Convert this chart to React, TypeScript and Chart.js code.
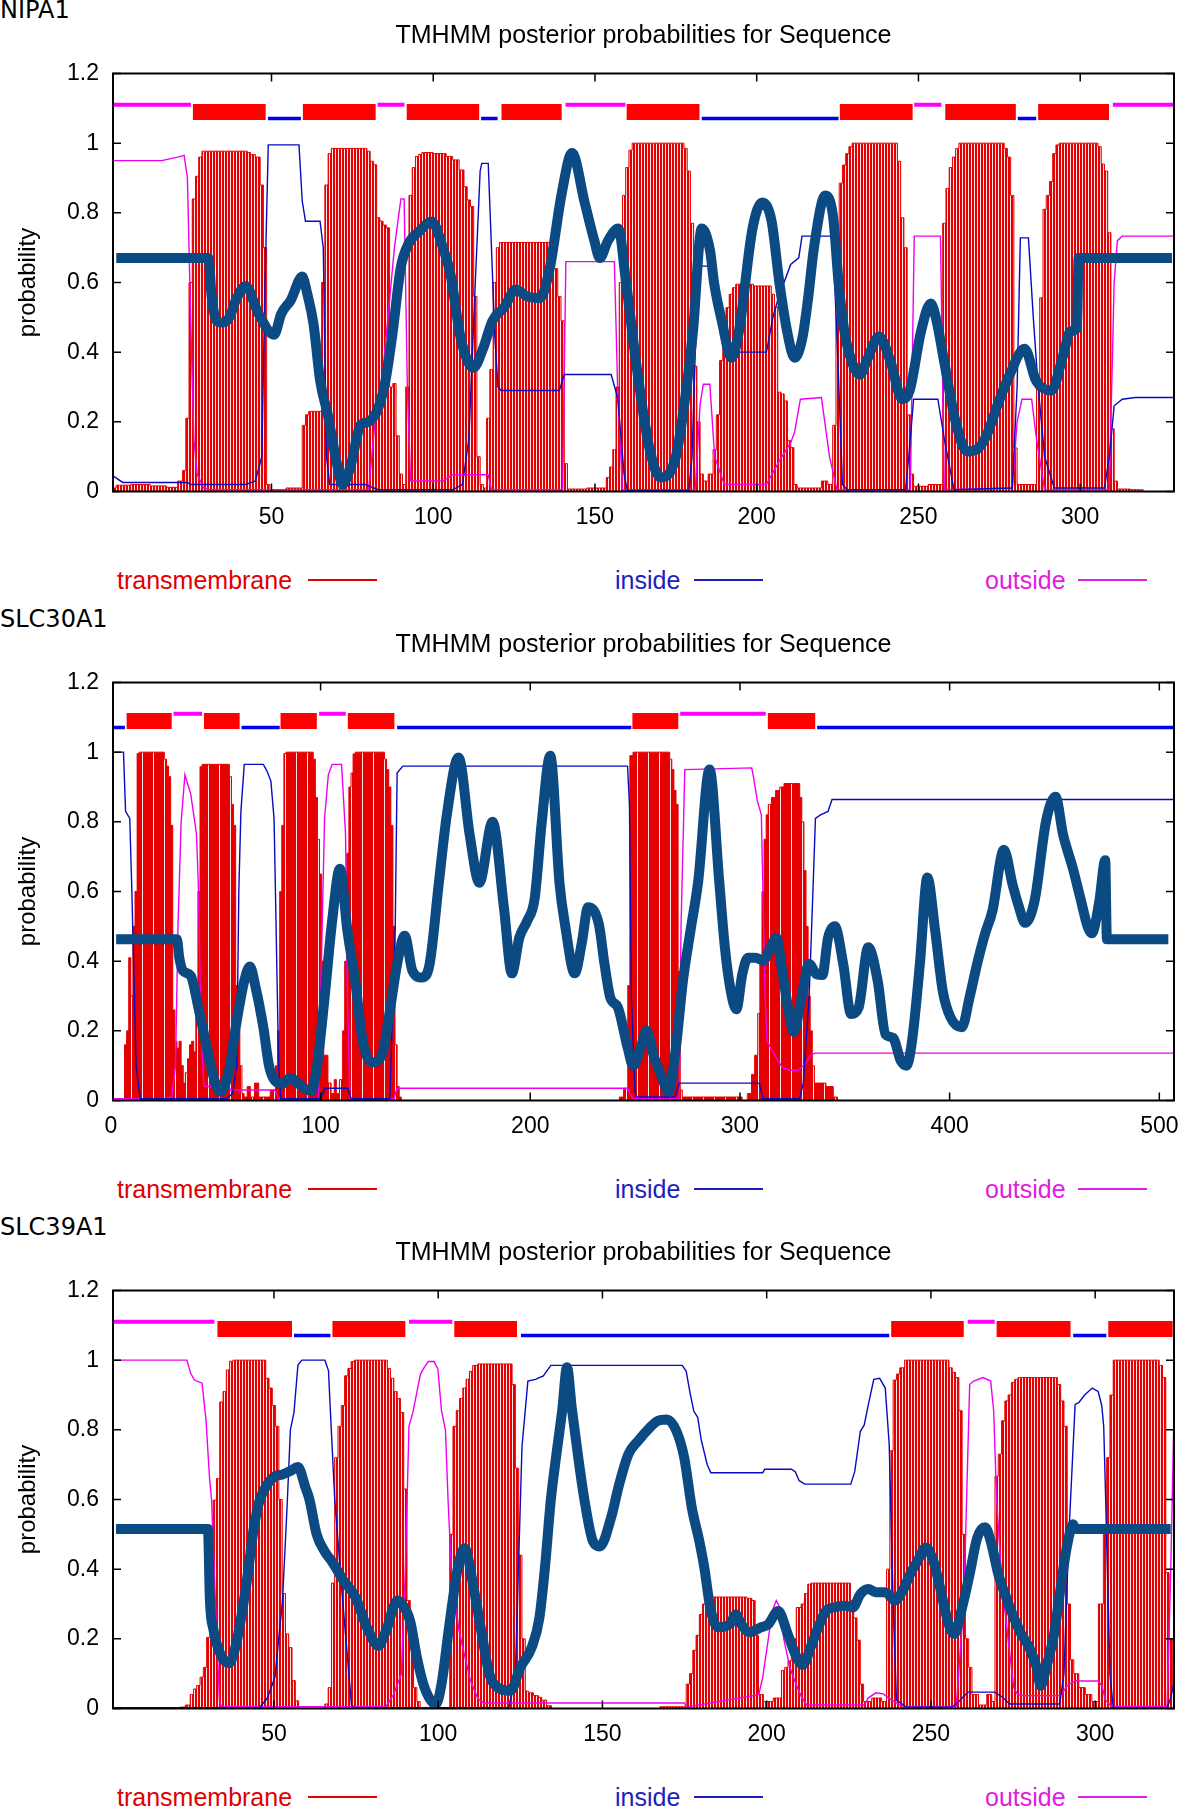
import React, { useEffect, useRef } from 'react';
import { Chart, registerables } from 'chart.js';

Chart.register(...registerables);

type Pt = [number, number];

// ---------------- shared tick / text data ----------------
const TITLE = 'TMHMM posterior probabilities for Sequence';
const Y_TITLE = 'probability';
const Y_TICKS = [0, 0.2, 0.4, 0.6, 0.8, 1, 1.2];
const LEGEND_NAMES = ['transmembrane', 'inside', 'outside'];

// ---------------- NIPA1 ----------------
const NIPA1_RANGE: Pt = [1, 329];
const NIPA1_XTICKS = [50, 100, 150, 200, 250, 300];
const NIPA1_TM: Pt[] = [
  [1, 0.01], [3, 0.018], [10, 0.02], [15, 0.016], [20, 0.012], [22, 0.03], [23, 0.06], [24, 0.21], [25, 0.6], [26, 0.84],
  [27, 0.905], [28, 0.96], [29, 0.977], [42, 0.977], [43, 0.973], [44, 0.967], [46, 0.96], [47, 0.88], [48, 0.7], [49, 0.02],
  [50, 0.005], [59, 0.01], [60, 0.19], [61, 0.22], [62, 0.23], [65, 0.23], [66, 0.6], [67, 0.88], [68, 0.97], [69, 0.985],
  [79, 0.985], [80, 0.977], [81, 0.948], [82, 0.938], [83, 0.786], [84, 0.776], [85, 0.765], [86, 0.757], [87, 0.3], [88, 0.31],
  [89, 0.16], [90, 0.05], [91, 0.02], [92, 0.3], [93, 0.85], [94, 0.93], [95, 0.962], [96, 0.968], [97, 0.973], [103, 0.97],
  [105, 0.962], [107, 0.952], [109, 0.923], [110, 0.875], [111, 0.837], [112, 0.818], [113, 0.56], [114, 0.1], [115, 0.02], [116, 0.01],
  [117, 0.21], [118, 0.35], [119, 0.6], [120, 0.7], [121, 0.715], [136, 0.715], [137, 0.7], [138, 0.64], [139, 0.56], [140, 0.49],
  [141, 0.08], [142, 0.007], [153, 0.01], [154, 0.04], [155, 0.07], [156, 0.12], [157, 0.3], [158, 0.6], [159, 0.85], [160, 0.93],
  [161, 0.98], [162, 1.0], [177, 1.0], [178, 0.985], [179, 0.92], [180, 0.77], [181, 0.36], [182, 0.2], [183, 0.05], [184, 0.03],
  [186, 0.05], [187, 0.12], [188, 0.22], [189, 0.376], [190, 0.447], [191, 0.528], [192, 0.566], [193, 0.585], [194, 0.595], [204, 0.59],
  [205, 0.566], [206, 0.53], [207, 0.285], [208, 0.28], [209, 0.26], [210, 0.146], [211, 0.126], [212, 0.02], [213, 0.01], [219, 0.01],
  [221, 0.03], [223, 0.02], [224, 0.19], [225, 0.6], [226, 0.885], [227, 0.937], [228, 0.97], [229, 0.99], [230, 1.0], [243, 1.0],
  [244, 0.948], [245, 0.786], [246, 0.7], [247, 0.22], [248, 0.05], [249, 0.015], [257, 0.02], [258, 0.77], [259, 0.87], [260, 0.93],
  [261, 0.96], [262, 0.985], [263, 1.0], [276, 1.0], [277, 0.985], [278, 0.96], [279, 0.85], [280, 0.125], [281, 0.02], [286, 0.02],
  [287, 0.3], [288, 0.556], [289, 0.81], [290, 0.85], [291, 0.89], [292, 0.97], [293, 0.995], [294, 1.0], [305, 1.0], [306, 0.99],
  [307, 0.94], [308, 0.92], [309, 0.743], [310, 0.18], [311, 0.03], [312, 0.007], [319, 0.005], [320, 0], [329, 0],
];
const NIPA1_INSIDE: Pt[] = [
  [1, 0.045], [4, 0.026], [24, 0.026], [25, 0.02], [42, 0.02], [45, 0.03], [47, 0.1], [48, 0.6], [49, 0.995], [58.5, 0.995],
  [59.5, 0.834], [60.5, 0.776], [65, 0.776], [66, 0.7], [67, 0.1], [68, 0.02], [79, 0.02], [83, 0.005], [106, 0.005], [109, 0.02],
  [111, 0.15], [113, 0.6], [114.5, 0.92], [115, 0.942], [117, 0.942], [118, 0.7], [119, 0.45], [120, 0.3], [121, 0.29], [139, 0.29],
  [140.5, 0.336], [155, 0.336], [157, 0.27], [159, 0.05], [160, 0.003], [179, 0.003], [180, 0.1], [181, 0.4], [182.5, 0.647], [185.5, 0.647],
  [188, 0.55], [191, 0.43], [193, 0.4], [203, 0.4], [205, 0.5], [207, 0.566], [209, 0.614], [210.5, 0.652], [213, 0.671], [214, 0.733],
  [223.5, 0.733], [225, 0.4], [226.5, 0.02], [228, 0.005], [246, 0.005], [247, 0.1], [248.5, 0.265], [256, 0.265], [258, 0.15], [261, 0.005],
  [279, 0.01], [280.5, 0.3], [281.5, 0.728], [284, 0.728], [285.5, 0.5], [287, 0.3], [289, 0.1], [292, 0.01], [307.5, 0.01], [309, 0.1],
  [310.5, 0.246], [313, 0.265], [317, 0.27], [329, 0.27],
];
const NIPA1_OUTSIDE: Pt[] = [
  [1, 0.95], [16, 0.95], [21, 0.96], [23, 0.965], [24, 0.9], [25, 0.5], [26, 0.15], [27, 0.05], [29, 0.01], [31, 0.005],
  [80, 0.005], [81, 0.1], [82, 0.2], [84, 0.3], [86, 0.5], [88, 0.7], [90, 0.84], [91, 0.84], [92, 0.3], [93, 0.03],
  [103, 0.03], [106, 0.048], [117, 0.048], [118, 0.005], [140, 0.005], [141, 0.66], [156, 0.66], [157, 0.3], [158.5, 0.005], [181, 0.005],
  [182.5, 0.25], [183.5, 0.308], [185.5, 0.308], [187, 0.1], [190, 0.02], [203, 0.02], [207, 0.088], [210.5, 0.14], [211.7, 0.17], [213.5, 0.265],
  [220, 0.27], [222.5, 0.1], [224.8, 0.005], [247.5, 0.005], [248.7, 0.733], [256.8, 0.733], [258, 0.005], [279, 0.01], [280.5, 0.2], [282, 0.265],
  [285, 0.265], [286.5, 0.15], [289, 0.005], [309, 0.005], [310.5, 0.6], [311.5, 0.72], [313, 0.733], [329, 0.733],
];
const NIPA1_SCORE: Pt[] = [
  [2, 0.67], [30.5, 0.67], [31.5, 0.56], [33, 0.49], [35, 0.485], [37, 0.5], [39, 0.55], [42, 0.59], [46, 0.51], [50.8, 0.45],
  [53, 0.51], [56, 0.55], [59.5, 0.617], [61, 0.57], [63, 0.48], [65, 0.32], [67.4, 0.22], [69.8, 0.1], [72, 0.02], [74.5, 0.075],
  [77.5, 0.19], [80, 0.2], [83, 0.24], [85.2, 0.317], [87.5, 0.46], [89.9, 0.64], [92.3, 0.71], [95.8, 0.748], [99.5, 0.775], [103, 0.7],
  [105.3, 0.625], [108.5, 0.44], [112.4, 0.355], [115.4, 0.41], [118.3, 0.49], [121.9, 0.528], [125.5, 0.58], [129, 0.56], [133, 0.555], [136, 0.64],
  [139.7, 0.855], [142.9, 0.972], [146.8, 0.83], [149.8, 0.72], [151.5, 0.67], [154, 0.72], [157.2, 0.755], [159.6, 0.6], [163, 0.35], [166.7, 0.13],
  [170.3, 0.04], [175, 0.1], [178.6, 0.32], [180.3, 0.46], [183, 0.755], [185.6, 0.69], [186.8, 0.6], [189.2, 0.49], [192.2, 0.384], [194.5, 0.46],
  [198.7, 0.755], [201.7, 0.83], [204.6, 0.776], [207, 0.6], [209.4, 0.46], [211.7, 0.384], [214.1, 0.44], [215.9, 0.556], [217.7, 0.7], [221.2, 0.85],
  [223.6, 0.79], [225.3, 0.6], [227.1, 0.46], [229.5, 0.37], [231.9, 0.335], [234.2, 0.38], [237.8, 0.445], [241.3, 0.375], [245, 0.265], [247.3, 0.29],
  [250.8, 0.46], [253.8, 0.54], [255.6, 0.49], [258, 0.37], [261.5, 0.2], [265, 0.115], [268.6, 0.125], [271, 0.16], [274.5, 0.25], [278.1, 0.333],
  [282.8, 0.41], [286.4, 0.317], [291.1, 0.29], [294.7, 0.39], [297, 0.46], [299, 0.47], [299.5, 0.67], [328.4, 0.67],
];
const NIPA1_TM_BOXES: Pt[] = [[25.7, 48.2], [59.7, 82.2], [91.8, 114.2], [121.1, 139.7], [159.8, 182.3], [225.7, 248.2], [258.3, 280.1], [287, 308.9]];
const NIPA1_IN_BARS: Pt[] = [[48.9, 59.1], [114.8, 119.9], [183, 225.3], [280.7, 286.4]];
const NIPA1_OUT_BARS: Pt[] = [[1, 25.1], [82.8, 91.1], [140.9, 159.4], [248.7, 257.1], [310.1, 329]];

// ---------------- SLC30A1 ----------------
const SLC30A1_RANGE: Pt = [1, 507];
const SLC30A1_XTICKS = [0, 100, 200, 300, 400, 500];
const SLC30A1_TM: Pt[] = [
  [1, 0], [6, 0], [7, 0.16], [8, 0.2], [9, 0.41], [10, 0.3], [11, 0.5], [12, 0.6], [13, 0.996], [14, 1.0],
  [25, 1.0], [26, 0.98], [27, 0.96], [28, 0.93], [29, 0.79], [30, 0.26], [31, 0.17], [32, 0.15], [33, 0.17], [34, 0.1],
  [35, 0.05], [36, 0.08], [37, 0.12], [38, 0.16], [39, 0.17], [40, 0.14], [41, 0.3], [42, 0.6], [43, 0.958], [44, 0.965],
  [56, 0.965], [57, 0.93], [58, 0.85], [59, 0.79], [60, 0.33], [61, 0.2], [62, 0.1], [63, 0.02], [64, 0.01], [66, 0.04],
  [67, 0.01], [70, 0.05], [71, 0.01], [74, 0.01], [78, 0.03], [79, 0.1], [80, 0.2], [81, 0.6], [82, 0.79], [83, 0.996],
  [84, 1.0], [96, 1.0], [97, 0.98], [98, 0.87], [99, 0.75], [100, 0.65], [101, 0.4], [102, 0.13], [103, 0.13], [104, 0.05],
  [106, 0.02], [107, 0.06], [108, 0.02], [110, 0.06], [111, 0.2], [112, 0.4], [113, 0.71], [114, 0.9], [115, 0.94], [116, 0.995],
  [117, 1.0], [130, 1.0], [131, 0.98], [132, 0.95], [133, 0.9], [134, 0.79], [135, 0.5], [136, 0.16], [137, 0.04], [138, 0.01],
  [139, 0], [242, 0], [243, 0.01], [246, 0.035], [247, 0.33], [248, 0.99], [250, 1.0], [266, 1.0], [267, 0.98], [268, 0.95],
  [269, 0.89], [270, 0.85], [271, 0.37], [272, 0.03], [273, 0.01], [300, 0.01], [302, 0], [305, 0.02], [306, 0.075], [308, 0.13],
  [309, 0.25], [310, 0.4], [311, 0.6], [312, 0.75], [313, 0.82], [314, 0.85], [316, 0.87], [318, 0.89], [320, 0.9], [322, 0.91],
  [328, 0.91], [329, 0.87], [330, 0.8], [331, 0.66], [332, 0.5], [333, 0.3], [334, 0.2], [335, 0.1], [336, 0.05], [338, 0.05],
  [344, 0.04], [345, 0.01], [348, 0], [507, 0],
];
const SLC30A1_INSIDE: Pt[] = [
  [1, 1.0], [6, 1.0], [7, 0.83], [9, 0.81], [10, 0.6], [12, 0.1], [14, 0.005], [55, 0.005], [58, 0.02], [60, 0.1],
  [61, 0.6], [62, 0.83], [63.6, 0.965], [72.7, 0.965], [74.5, 0.945], [76.3, 0.917], [77.8, 0.81], [78.5, 0.59], [80, 0.1], [81, 0.005],
  [100, 0.005], [102, 0.035], [113, 0.035], [114.6, 0.005], [133, 0.005], [135.6, 0.5], [136.5, 0.94], [139.2, 0.96], [246.4, 0.96], [247.3, 0.85],
  [248.2, 0.3], [250, 0.02], [251, 0.01], [269, 0.01], [271, 0.05], [309.2, 0.05], [311, 0.005], [328.4, 0.005], [330.2, 0.05], [333, 0.3],
  [334.8, 0.6], [336, 0.81], [338.4, 0.82], [342, 0.83], [343.9, 0.864], [507, 0.864],
];
const SLC30A1_OUTSIDE: Pt[] = [
  [1, 0.005], [25, 0.005], [29, 0.01], [30.8, 0.1], [32, 0.5], [33.5, 0.8], [35.3, 0.935], [38.1, 0.879], [40.8, 0.765], [41.7, 0.62],
  [43, 0.2], [44.4, 0.04], [56.3, 0.04], [57, 0.03], [78.2, 0.03], [80, 0.005], [99, 0.005], [100, 0.3], [101.9, 0.81], [103.7, 0.935],
  [105.5, 0.965], [110, 0.965], [111, 0.86], [111.9, 0.765], [112.8, 0.3], [114, 0.005], [135, 0.005], [136.5, 0.035], [246.4, 0.035], [248, 0.015],
  [249.1, 0.005], [271, 0.005], [271.9, 0.5], [273.7, 0.95], [305.6, 0.955], [306.5, 0.927], [308.3, 0.86], [310.2, 0.82], [311, 0.59], [312, 0.3],
  [312.9, 0.172], [316.5, 0.13], [320.2, 0.095], [323.8, 0.087], [327.5, 0.087], [331.1, 0.105], [333.8, 0.13], [335.7, 0.136], [507, 0.136],
];
const SLC30A1_SCORE: Pt[] = [
  [2.5, 0.463], [31.5, 0.463], [32.6, 0.41], [34.4, 0.372], [38.1, 0.358], [41.7, 0.267], [45.4, 0.162], [49, 0.067], [52, 0.025], [56.3, 0.085],
  [60, 0.228], [63.6, 0.343], [66.3, 0.385], [69, 0.325], [72.7, 0.21], [75.4, 0.1], [78.2, 0.057], [81.8, 0.048], [85.5, 0.065], [89.1, 0.05],
  [92.8, 0.033], [95.5, 0.028], [98.2, 0.095], [101.9, 0.295], [105.5, 0.515], [109.2, 0.665], [112.8, 0.487], [116.5, 0.343], [120.1, 0.17], [124.6, 0.11],
  [129.2, 0.13], [132.8, 0.248], [136.5, 0.392], [140.1, 0.473], [143.8, 0.372], [148.3, 0.353], [152, 0.392], [156.5, 0.63], [160.2, 0.82], [165.8, 0.985],
  [171.1, 0.763], [175.7, 0.625], [182, 0.8], [187.5, 0.55], [191.2, 0.365], [194.8, 0.468], [198.5, 0.515], [202.1, 0.58], [205.5, 0.8], [209.5, 0.99],
  [214, 0.62], [216.7, 0.5], [221.2, 0.365], [224.5, 0.45], [227.6, 0.555], [232.7, 0.506], [235.4, 0.392], [238.2, 0.295], [241.8, 0.267], [246.4, 0.153],
  [249.1, 0.1], [252.7, 0.153], [255.5, 0.2], [259.1, 0.124], [262.8, 0.067], [265.8, 0.025], [269.1, 0.134], [272.8, 0.343], [276.4, 0.487], [280.1, 0.63],
  [285.5, 0.95], [290.1, 0.63], [292.8, 0.44], [295.6, 0.315], [298.3, 0.262], [301.1, 0.362], [303.8, 0.41], [307.4, 0.41], [311.1, 0.402], [314.7, 0.44],
  [317.4, 0.467], [320.2, 0.372], [322.9, 0.267], [325.6, 0.197], [329.3, 0.295], [333, 0.392], [336.6, 0.362], [339.3, 0.36], [342, 0.467], [345.2, 0.5],
  [349.3, 0.39], [353, 0.248], [356.6, 0.267], [361.2, 0.44], [365.7, 0.343], [369.4, 0.19], [373, 0.18], [376.7, 0.114], [379.4, 0.1], [382.1, 0.172],
  [385.8, 0.392], [389.4, 0.64], [393.1, 0.487], [396.7, 0.315], [400.4, 0.239], [405.8, 0.21], [409.5, 0.296], [413.1, 0.392], [416.8, 0.477], [420.4, 0.544],
  [425.9, 0.72], [430, 0.62], [433.2, 0.553], [435.9, 0.51], [440.5, 0.573], [446, 0.802], [450.5, 0.872], [454.1, 0.763], [458.7, 0.668], [462.3, 0.582],
  [466, 0.496], [467.8, 0.48], [471.4, 0.573], [474.2, 0.69], [475, 0.463], [504.3, 0.463],
];
const SLC30A1_TM_BOXES: Pt[] = [[7.5, 29], [44.4, 61.4], [80.9, 98.2], [113, 135.2], [248.7, 270.6], [313.3, 335.9]];
const SLC30A1_IN_BARS: Pt[] = [[1.1, 6.7], [62.3, 80.5], [136.5, 248.2], [336.8, 507]];
const SLC30A1_OUT_BARS: Pt[] = [[29.9, 43.5], [99.3, 112], [271.5, 312.3]];

// ---------------- SLC39A1 ----------------
const SLC39A1_RANGE: Pt = [1, 324];
const SLC39A1_XTICKS = [50, 100, 150, 200, 250, 300];
const SLC39A1_TM: Pt[] = [
  [1, 0], [21, 0], [22, 0.004], [24, 0.01], [25, 0.04], [26, 0.056], [27, 0.066], [28, 0.09], [29, 0.118], [30, 0.204],
  [31, 0.31], [32, 0.598], [33, 0.66], [34, 0.88], [35, 0.91], [36, 0.972], [37, 0.997], [38, 1.0], [47, 1.0], [48, 0.948],
  [49, 0.92], [50, 0.87], [51, 0.81], [52, 0.6], [53, 0.33], [54, 0.214], [55, 0.175], [56, 0.08], [57, 0.022], [58, 0],
  [65, 0], [66, 0.013], [67, 0.06], [68, 0.36], [69, 0.72], [70, 0.81], [71, 0.87], [72, 0.955], [73, 0.976], [74, 0.996],
  [75, 1.0], [84, 1.0], [85, 0.976], [86, 0.948], [87, 0.91], [88, 0.89], [89, 0.85], [90, 0.63], [91, 0.31], [92, 0.17],
  [93, 0.06], [94, 0.02], [95, 0], [103, 0], [104, 0.5], [105, 0.81], [106, 0.855], [107, 0.89], [108, 0.92], [109, 0.945],
  [110, 0.968], [111, 0.985], [113, 0.989], [122, 0.989], [123, 0.93], [124, 0.69], [125, 0.44], [126, 0.2], [127, 0.05], [128, 0.045],
  [130, 0.037], [131, 0.032], [132, 0.024], [134, 0.008], [135, 0], [167, 0], [168, 0.005], [175, 0.005], [176, 0.07], [177, 0.1],
  [178, 0.167], [179, 0.21], [180, 0.27], [181, 0.3], [182, 0.316], [183, 0.32], [193, 0.32], [195, 0.316], [196, 0.31], [197, 0.21],
  [198, 0.04], [200, 0.02], [204, 0.03], [205, 0.109], [206, 0.118], [207, 0.137], [208, 0.2], [210, 0.29], [211, 0.3], [212, 0.33],
  [213, 0.357], [214, 0.36], [225, 0.36], [226, 0.31], [227, 0.26], [228, 0.196], [229, 0.07], [230, 0.02], [234, 0.03], [236, 0.02],
  [237, 0.4], [238, 0.74], [239, 0.943], [240, 0.96], [241, 0.978], [243, 1.0], [255, 1.0], [256, 0.978], [257, 0.965], [258, 0.95],
  [259, 0.855], [260, 0.5], [261, 0.2], [262, 0.118], [263, 0.04], [266, 0.01], [268, 0.04], [269, 0.02], [270, 0.667], [271, 0.73],
  [272, 0.826], [273, 0.883], [274, 0.9], [275, 0.936], [276, 0.945], [277, 0.95], [288, 0.95], [289, 0.93], [290, 0.883], [291, 0.81],
  [292, 0.3], [293, 0.14], [294, 0.1], [296, 0.06], [298, 0.04], [300, 0.02], [302, 0.3], [303, 0.5], [304, 0.72], [305, 0.9],
  [306, 1.0], [319, 1.0], [320, 0.985], [321, 0.95], [322, 0.39], [323, 0.2], [324, 0.05],
];
const SLC39A1_INSIDE: Pt[] = [
  [1, 0.002], [45.6, 0.002], [48, 0.03], [50.3, 0.09], [52.6, 0.31], [54, 0.58], [55, 0.8], [56.1, 0.85], [57.3, 0.986], [58.5, 1.0],
  [65.5, 1.0], [66.6, 0.97], [67.2, 0.85], [68.5, 0.6], [71, 0.3], [73.6, 0.01], [74.5, 0.002], [121.5, 0.002], [123.5, 0.1], [125.5, 0.75],
  [127.3, 0.94], [129.6, 0.945], [132, 0.955], [134.3, 0.985], [174.3, 0.985], [175.5, 0.968], [176.6, 0.91], [177.8, 0.854], [179, 0.836], [180.1, 0.77],
  [181.9, 0.7], [183, 0.677], [198.8, 0.677], [199.4, 0.687], [207.5, 0.687], [208.7, 0.68], [209.9, 0.654], [211.6, 0.644], [225.6, 0.644], [226.8, 0.68],
  [228.5, 0.795], [229.7, 0.814], [230.9, 0.87], [232.6, 0.945], [234.4, 0.948], [236.1, 0.92], [237.3, 0.758], [238.5, 0.3], [239.5, 0.024], [242.5, 0.004],
  [256.5, 0.004], [258.5, 0.02], [261.2, 0.047], [269.4, 0.047], [271.7, 0.033], [274, 0.013], [289.2, 0.013], [290.5, 0.1], [292, 0.5], [293.9, 0.873],
  [295, 0.878], [296.8, 0.9], [299.1, 0.92], [300.9, 0.91], [302, 0.87], [302.6, 0.81], [303.2, 0.6], [304.5, 0.1], [305.5, 0.002], [321.9, 0.002],
  [323, 0.03], [324, 0.074],
];
const SLC39A1_OUTSIDE: Pt[] = [
  [1, 1.0], [23.5, 1.0], [24.6, 0.963], [25.8, 0.943], [28.1, 0.934], [29.3, 0.83], [30.4, 0.66], [31, 0.6], [32.2, 0.3], [33.4, 0.023],
  [34, 0.005], [84, 0.005], [86.4, 0.04], [88.8, 0.1], [90, 0.4], [91.1, 0.81], [92.3, 0.85], [94.6, 0.96], [95.8, 0.98], [97, 0.996],
  [98.7, 0.996], [99.9, 0.975], [101, 0.855], [102.2, 0.8], [103, 0.6], [104, 0.4], [106.3, 0.226], [107.5, 0.175], [109.8, 0.08], [112.1, 0.028],
  [113.9, 0.016], [175, 0.016], [175.5, 0.004], [197.6, 0.04], [198.8, 0.09], [200.5, 0.2], [201.7, 0.28], [202.9, 0.31], [204, 0.29], [205.2, 0.2],
  [207, 0.12], [208.7, 0.075], [210.5, 0.035], [212.2, 0.01], [229.7, 0.01], [230.9, 0.03], [233.2, 0.045], [235.5, 0.042], [237.9, 0.025], [241.4, 0.006],
  [257.7, 0.006], [260, 0.3], [261.8, 0.93], [263, 0.94], [265.9, 0.95], [268.2, 0.94], [269.1, 0.855], [270, 0.6], [271.7, 0.35], [273.5, 0.2],
  [275.2, 0.06], [276.4, 0.04], [278.7, 0.037], [289.2, 0.037], [290.4, 0.05], [291.5, 0.066], [293.9, 0.079], [300.9, 0.079], [302, 0.066], [303.2, 0.023],
  [305, 0.006], [321.9, 0.006], [323, 0.39], [324, 0.85],
];
const SLC39A1_SCORE: Pt[] = [
  [1.9, 0.515], [29.9, 0.515], [30.5, 0.31], [31.6, 0.226], [34, 0.15], [36.3, 0.13], [38.6, 0.19], [41.5, 0.35], [43.9, 0.52], [45.6, 0.596],
  [48, 0.644], [50.3, 0.667], [52.6, 0.672], [55, 0.682], [57.3, 0.693], [59.6, 0.634], [60.8, 0.6], [63, 0.5], [65.5, 0.45], [67.8, 0.42],
  [71, 0.37], [74.8, 0.32], [78.3, 0.233], [81.8, 0.18], [84, 0.22], [87.6, 0.31], [89, 0.3], [91.5, 0.25], [93.5, 0.147], [95.8, 0.061],
  [99.3, 0.012], [101, 0.07], [103.3, 0.233], [106, 0.405], [108, 0.46], [110.9, 0.34], [113.3, 0.213], [115.6, 0.098], [118, 0.061], [122, 0.051],
  [125, 0.118], [128.5, 0.176], [130.8, 0.26], [132.5, 0.405], [134.3, 0.6], [136, 0.73], [137.8, 0.86], [139.2, 0.98], [140.7, 0.86], [142.5, 0.73],
  [144.5, 0.6], [147.1, 0.48], [149.2, 0.465], [152.7, 0.55], [155, 0.64], [157.9, 0.73], [161, 0.77], [164.4, 0.806], [166.7, 0.825], [169.6, 0.83],
  [172.5, 0.797], [174.9, 0.72], [177.2, 0.577], [179.5, 0.48], [181, 0.405], [183, 0.28], [185.4, 0.233], [189, 0.245], [190.6, 0.27], [192.4, 0.24],
  [194.7, 0.219], [198.2, 0.233], [200.5, 0.242], [203.5, 0.28], [206.4, 0.214], [208.7, 0.156], [211, 0.125], [213.4, 0.176], [215.7, 0.233], [218, 0.28],
  [220.4, 0.29], [223.9, 0.295], [226.2, 0.29], [228.5, 0.328], [230.9, 0.343], [233.2, 0.334], [236.1, 0.334], [239, 0.31], [241.4, 0.338], [243.7, 0.386],
  [246, 0.425], [248.4, 0.462], [250.7, 0.425], [253, 0.338], [255.4, 0.242], [257.1, 0.214], [259.5, 0.29], [261.8, 0.386], [264.1, 0.49], [266.5, 0.52],
  [268.2, 0.48], [270.5, 0.386], [272.9, 0.319], [275.2, 0.262], [277.5, 0.214], [279.9, 0.176], [282.2, 0.118], [283.4, 0.065], [285.1, 0.118], [287.5, 0.214],
  [289.2, 0.328], [291.5, 0.47], [293.3, 0.529], [293.9, 0.515], [323, 0.515],
];
const SLC39A1_TM_BOXES: Pt[] = [[32.8, 55.5], [67.8, 90], [104.9, 124], [237.9, 260], [270, 292.5], [304, 323.6]];
const SLC39A1_IN_BARS: Pt[] = [[56.1, 67.2], [125.2, 237.3], [293.3, 303.4]];
const SLC39A1_OUT_BARS: Pt[] = [[0.9, 31.9], [91.1, 104.3], [261.2, 269.4]];

// ---------------- styling / layout (not data) ----------------
const FONT = '"Liberation Sans", Arial, Helvetica, sans-serif';
const LABEL_FONT = '"DejaVu Sans", "Liberation Sans", sans-serif';
const C_TM = '#e40000';
const C_TM_GAP = '#ffe6e6';
const C_TM_BOX = '#ff0000';
const C_IN = '#0a0ac0';
const C_IN_BAR = '#0000ee';
const C_OUT = '#ee00ee';
const C_OUT_BAR = '#ff00ff';
const C_SCORE = '#0c4a84';
const LEVEL_OUT = 1.11;
const LEVEL_IN = 1.071;
const LEVEL_TM = 1.0895;
const PANEL_TOPS = [0, 609, 1217];
const CANVAS_H = 560;
const PLOT_BOTTOM = 491.5;
const LEGEND_LAYOUT = [
  { color: '#e00000', textX: 117, lineX: 308 },
  { color: '#1e1ebe', textX: 615, lineX: 694 },
  { color: '#e020e0', textX: 985, lineX: 1078 },
];

type PanelDef = {
  name: string;
  range: Pt;
  xTicks: number[];
  tm: Pt[];
  inside: Pt[];
  outside: Pt[];
  score: Pt[];
  tmBoxes: Pt[];
  inBars: Pt[];
  outBars: Pt[];
  stripe: Pt; // [period, red width] of the impulse hatch
};

const PANELS: PanelDef[] = [
  { name: 'NIPA1', range: NIPA1_RANGE, xTicks: NIPA1_XTICKS, tm: NIPA1_TM, inside: NIPA1_INSIDE, outside: NIPA1_OUTSIDE, score: NIPA1_SCORE, tmBoxes: NIPA1_TM_BOXES, inBars: NIPA1_IN_BARS, outBars: NIPA1_OUT_BARS, stripe: [3, 2] },
  { name: 'SLC30A1', range: SLC30A1_RANGE, xTicks: SLC30A1_XTICKS, tm: SLC30A1_TM, inside: SLC30A1_INSIDE, outside: SLC30A1_OUTSIDE, score: SLC30A1_SCORE, tmBoxes: SLC30A1_TM_BOXES, inBars: SLC30A1_IN_BARS, outBars: SLC30A1_OUT_BARS, stripe: [11, 10] },
  { name: 'SLC39A1', range: SLC39A1_RANGE, xTicks: SLC39A1_XTICKS, tm: SLC39A1_TM, inside: SLC39A1_INSIDE, outside: SLC39A1_OUTSIDE, score: SLC39A1_SCORE, tmBoxes: SLC39A1_TM_BOXES, inBars: SLC39A1_IN_BARS, outBars: SLC39A1_OUT_BARS, stripe: [3, 2] },
];

const toXY = (pts: Pt[]) => pts.map(([x, y]) => ({ x, y }));
const toSegments = (ranges: Pt[], level: number) => {
  const out: { x: number; y: number | null }[] = [];
  ranges.forEach(([a, b]) => {
    out.push({ x: a, y: level }, { x: b, y: level }, { x: b, y: null });
  });
  return out;
};

function stripePattern(period: number, red: number): CanvasPattern | string {
  const c = document.createElement('canvas');
  c.width = period;
  c.height = 4;
  const g = c.getContext('2d');
  if (!g) return C_TM;
  g.fillStyle = C_TM_GAP;
  g.fillRect(0, 0, period, 4);
  g.fillStyle = C_TM;
  g.fillRect(0, 0, red, 4);
  return g.createPattern(c, 'repeat') || C_TM;
}

const framePlugin = {
  id: 'gnuplotFrame',
  afterDraw(chart: any) {
    const { ctx, chartArea: a, scales } = chart;
    ctx.save();
    ctx.strokeStyle = '#000';
    ctx.lineWidth = 1.5;
    ctx.beginPath();
    scales.x.ticks.forEach((t: any) => {
      if (t.value < scales.x.min || t.value > scales.x.max) return;
      const px = scales.x.getPixelForValue(t.value);
      ctx.moveTo(px, a.bottom);
      ctx.lineTo(px, a.bottom - 8);
      ctx.moveTo(px, a.top);
      ctx.lineTo(px, a.top + 8);
    });
    scales.y.ticks.forEach((t: any) => {
      const py = scales.y.getPixelForValue(t.value);
      ctx.moveTo(a.left, py);
      ctx.lineTo(a.left + 8, py);
      ctx.moveTo(a.right, py);
      ctx.lineTo(a.right - 8, py);
    });
    ctx.stroke();
    ctx.lineWidth = 2;
    ctx.strokeRect(a.left, a.top, a.right - a.left, a.bottom - a.top);
    ctx.restore();
  },
};

function TmhmmPanel({ p, top }: { p: PanelDef; top: number }) {
  const ref = useRef<HTMLCanvasElement>(null);

  useEffect(() => {
    const canvas = ref.current;
    if (!canvas) return;
    const datasets: any[] = [
      {
        label: 'score', data: toXY(p.score), borderColor: C_SCORE, borderWidth: 10, pointRadius: 0,
        tension: 0.4, cubicInterpolationMode: 'monotone', borderJoinStyle: 'round', borderCapStyle: 'butt', fill: false, order: 0,
      },
      { label: 'inside', data: toXY(p.inside), borderColor: C_IN, borderWidth: 1.4, pointRadius: 0, tension: 0, fill: false, order: 1 },
      { label: 'outside', data: toXY(p.outside), borderColor: C_OUT, borderWidth: 1.4, pointRadius: 0, tension: 0, fill: false, order: 2 },
      { label: 'tm-top', data: toSegments(p.tmBoxes, LEVEL_TM), borderColor: C_TM_BOX, borderWidth: 16, borderCapStyle: 'butt', pointRadius: 0, fill: false, order: 3 },
      { label: 'in-top', data: toSegments(p.inBars, LEVEL_IN), borderColor: C_IN_BAR, borderWidth: 3.5, borderCapStyle: 'butt', pointRadius: 0, fill: false, order: 4 },
      { label: 'out-top', data: toSegments(p.outBars, LEVEL_OUT), borderColor: C_OUT_BAR, borderWidth: 4, borderCapStyle: 'butt', pointRadius: 0, fill: false, order: 5 },
      {
        label: 'transmembrane', data: toXY(p.tm), stepped: 'middle', borderColor: C_TM, borderWidth: 1, pointRadius: 0,
        fill: 'origin', backgroundColor: stripePattern(p.stripe[0], p.stripe[1]), order: 10,
      },
    ];

    const chart = new Chart(canvas, {
      type: 'line',
      data: { datasets },
      options: {
        animation: false,
        responsive: false,
        events: [],
        layout: { padding: { left: 0, right: 26, top: 0, bottom: 0 } },
        plugins: {
          legend: { display: false },
          tooltip: { enabled: false },
          title: {
            display: true, text: TITLE, fullSize: false, color: '#000',
            font: { family: FONT, size: 25, weight: 'normal' }, padding: { top: 21, bottom: 22.5 },
          },
        },
        scales: {
          x: {
            type: 'linear', min: p.range[0], max: p.range[1],
            grid: { display: false, drawTicks: false }, border: { display: false },
            ticks: { autoSkip: false, maxRotation: 0, padding: 12.5, color: '#000', font: { family: FONT, size: 23 }, callback: (v: any) => String(v) },
            afterBuildTicks: (s: any) => { s.ticks = p.xTicks.map((v) => ({ value: v })); },
            afterFit: (s: any) => { s.height = CANVAS_H - PLOT_BOTTOM; },
          },
          y: {
            type: 'linear', min: 0, max: 1.2,
            grid: { display: false, drawTicks: false }, border: { display: false },
            ticks: { padding: 14, color: '#000', font: { family: FONT, size: 23 }, callback: (v: any) => String(v) },
            title: { display: true, text: Y_TITLE, color: '#000', font: { family: FONT, size: 24 }, padding: { top: 14, bottom: 0 } },
            afterBuildTicks: (s: any) => { s.ticks = Y_TICKS.map((v) => ({ value: v })); },
            afterFit: (s: any) => { s.width = 113; },
          },
        },
      } as any,
      plugins: [framePlugin],
    });
    return () => chart.destroy();
  }, [p]);

  return (
    <div style={{ position: 'absolute', left: 0, top, width: 1200, height: 608 }}>
      <div style={{ position: 'absolute', left: 0, top: -2, fontFamily: LABEL_FONT, fontSize: 24, lineHeight: '24px', color: '#000', whiteSpace: 'nowrap' }}>
        {p.name}
      </div>
      <canvas ref={ref} width={1200} height={CANVAS_H} style={{ position: 'absolute', left: 0, top: 0, width: 1200, height: CANVAS_H }} />
      {LEGEND_NAMES.map((name, i) => (
        <React.Fragment key={name}>
          <div style={{ position: 'absolute', left: LEGEND_LAYOUT[i].textX, top: 568, fontFamily: FONT, fontSize: 25, lineHeight: '25px', color: LEGEND_LAYOUT[i].color, whiteSpace: 'nowrap' }}>
            {name}
          </div>
          <div style={{ position: 'absolute', left: LEGEND_LAYOUT[i].lineX, top: 579, width: 69, height: 1.6, background: LEGEND_LAYOUT[i].color }} />
        </React.Fragment>
      ))}
    </div>
  );
}

export default function App() {
  return (
    <div style={{ position: 'absolute', left: 0, top: 0, width: 1200, height: 1808, overflow: 'hidden', background: '#fff' }}>
      {PANELS.map((p, i) => (
        <TmhmmPanel key={p.name} p={p} top={PANEL_TOPS[i]} />
      ))}
    </div>
  );
}
